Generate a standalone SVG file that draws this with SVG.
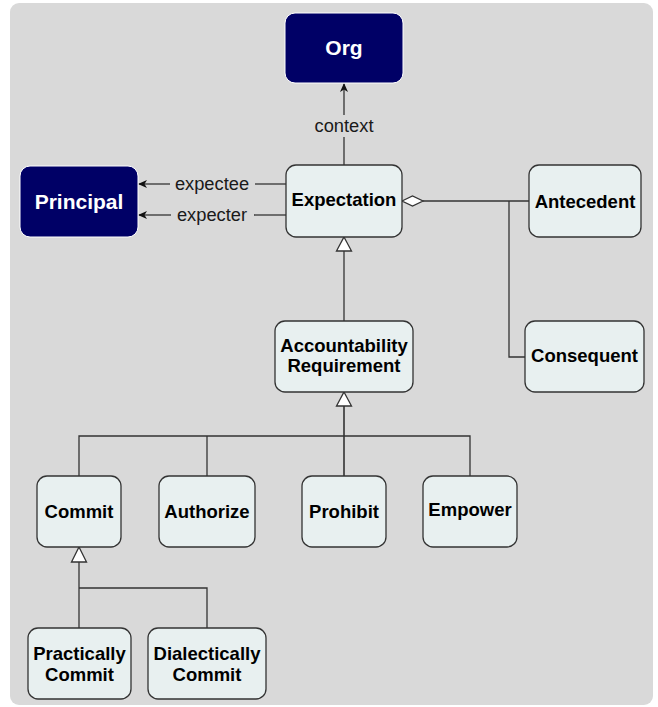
<svg xmlns="http://www.w3.org/2000/svg" width="658" height="707" viewBox="0 0 658 707">
  <style>
    .bg { fill: #d9d9d9; }
    .dark rect { fill: #000066; stroke: #ffffff; stroke-width: 1; }
    .dark text { fill: #ffffff; font: bold 21px "Liberation Sans", Arial, sans-serif; text-anchor: middle; }
    .light rect { fill: #e8f0f0; stroke: #333333; stroke-width: 1.3; }
    .light text { fill: #000000; font: bold 18.5px "Liberation Sans", Arial, sans-serif; text-anchor: middle; }
    .edge { fill: none; stroke: #333333; stroke-width: 1.3; }
    .hollow { fill: #ffffff; stroke: #333333; stroke-width: 1.3; }
    .lbl { fill: #1a1a1a; font: 18.3px "Liberation Sans", Arial, sans-serif; text-anchor: middle; }
  </style>
  <defs>
    <marker id="arrow" viewBox="0 0 10 10" refX="9" refY="5" markerWidth="10" markerHeight="10" markerUnits="userSpaceOnUse" orient="auto">
      <path d="M10,5 L1,1 L3.5,5 L1,9 Z" fill="#111111"/>
    </marker>
  </defs>

  <rect class="bg" x="10" y="3" width="643" height="702" rx="9"/>

  <g id="connectors">
    <!-- context: Expectation -> Org -->
    <path class="edge" d="M344,165 V137"/>
    <path class="edge" d="M344,115 V84" marker-end="url(#arrow)"/>
    <text class="lbl" x="344" y="132">context</text>

    <!-- expectee / expecter: Expectation -> Principal -->
    <path class="edge" d="M286,184 H255"/>
    <path class="edge" d="M170,184 H139" marker-end="url(#arrow)"/>
    <text class="lbl" x="212" y="190">expectee</text>
    <path class="edge" d="M286,215 H254"/>
    <path class="edge" d="M171,215 H139" marker-end="url(#arrow)"/>
    <text class="lbl" x="212" y="221">expecter</text>

    <!-- aggregation: Expectation <>- Antecedent, Consequent -->
    <path class="edge" d="M423,201 H529"/>
    <path class="edge" d="M509,201 V357 H525"/>
    <polygon class="hollow" points="402,201 412.5,196 423,201 412.5,206"/>

    <!-- generalization: Accountability Requirement -> Expectation -->
    <path class="edge" d="M344,321 V251"/>
    <polygon class="hollow" points="344,237 351.5,251 336.5,251"/>

    <!-- generalization: Commit/Authorize/Prohibit/Empower -> Accountability Requirement -->
    <path class="edge" d="M79,476 V436 H470 V476"/>
    <path class="edge" d="M207,476 V436"/>
    <path class="edge" d="M344,476 V406" style="stroke-width:1.6"/>
    <polygon class="hollow" points="344,392 351.5,406 336.5,406"/>

    <!-- generalization: Practically/Dialectically Commit -> Commit -->
    <path class="edge" d="M79,628 V562"/>
    <path class="edge" d="M79,588 H207 V628"/>
    <polygon class="hollow" points="79,547 86.5,562 71.5,562"/>
  </g>

  <g id="org" class="dark">
    <rect x="285" y="13" width="118" height="70" rx="10"/>
    <text x="344" y="55">Org</text>
  </g>
  <g id="principal" class="dark">
    <rect x="20" y="166" width="118" height="71" rx="10"/>
    <text x="79" y="209">Principal</text>
  </g>
  <g id="expectation" class="light">
    <rect x="286" y="165" width="116" height="72" rx="10"/>
    <text x="344" y="206">Expectation</text>
  </g>
  <g id="antecedent" class="light">
    <rect x="529" y="165" width="112" height="72" rx="10"/>
    <text x="585" y="208">Antecedent</text>
  </g>
  <g id="consequent" class="light">
    <rect x="525" y="321" width="119" height="71" rx="10"/>
    <text x="584.5" y="362">Consequent</text>
  </g>
  <g id="accountability-requirement" class="light">
    <rect x="275" y="321" width="138" height="71" rx="10"/>
    <text x="344" y="352">Accountability</text>
    <text x="344" y="372">Requirement</text>
  </g>
  <g id="commit" class="light">
    <rect x="37" y="476" width="84" height="71" rx="10"/>
    <text x="79" y="518">Commit</text>
  </g>
  <g id="authorize" class="light">
    <rect x="159" y="476" width="96" height="71" rx="10"/>
    <text x="207" y="518">Authorize</text>
  </g>
  <g id="prohibit" class="light">
    <rect x="302" y="476" width="84" height="71" rx="10"/>
    <text x="344" y="518">Prohibit</text>
  </g>
  <g id="empower" class="light">
    <rect x="423" y="476" width="94" height="71" rx="10"/>
    <text x="470" y="516">Empower</text>
  </g>
  <g id="practically-commit" class="light">
    <rect x="28" y="628" width="103" height="71" rx="10"/>
    <text x="79.5" y="660">Practically</text>
    <text x="79.5" y="681">Commit</text>
  </g>
  <g id="dialectically-commit" class="light">
    <rect x="148" y="628" width="118" height="71" rx="10"/>
    <text x="207" y="660">Dialectically</text>
    <text x="207" y="681">Commit</text>
  </g>
</svg>
